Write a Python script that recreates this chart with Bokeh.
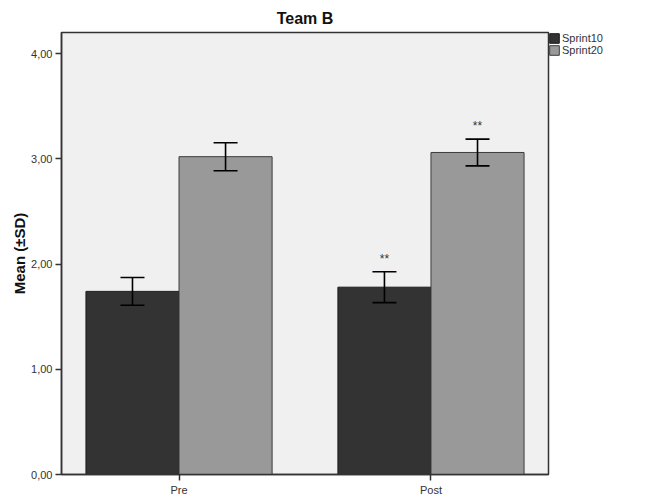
from bokeh.plotting import figure
from bokeh.models import (ColumnDataSource, FactorRange, Range1d, Whisker, TeeHead,
                          Legend, LegendItem, CustomJSTickFormatter, FixedTicker)
from bokeh.transform import dodge
from bokeh.core.properties import value
from bokeh.embed import file_html
from bokeh.resources import INLINE

# ---- data ----
phases = ["Pre", "Post"]
series_names = ["Sprint10", "Sprint20"]
sprint10_mean = [1.74, 1.78]
sprint10_sd = [0.132, 0.147]
sprint20_mean = [3.02, 3.06]
sprint20_sd = [0.133, 0.127]
sprint10_mark = ["", "**"]
sprint20_mark = ["", "**"]
y_ticks = [0, 1, 2, 3, 4]
y_max = 4.2

colors = ["#333333", "#999999"]
edge_colors = ["#1c1c1c", "#3c3c3c"]
FONT = "Liberation Sans"

src = ColumnDataSource(dict(
    phase=phases,
    m10=sprint10_mean, m20=sprint20_mean,
    up10=[m + s for m, s in zip(sprint10_mean, sprint10_sd)],
    lo10=[m - s for m, s in zip(sprint10_mean, sprint10_sd)],
    up20=[m + s for m, s in zip(sprint20_mean, sprint20_sd)],
    lo20=[m - s for m, s in zip(sprint20_mean, sprint20_sd)],
    mk10=sprint10_mark, mk20=sprint20_mark,
))

p = figure(frame_width=487, frame_height=442, output_backend="svg", toolbar_location=None,
           x_range=FactorRange(factors=phases, factor_padding=0.072, range_padding=0),
           y_range=Range1d(0, y_max), title="Team B",
           min_border_left=61, min_border_right=53, min_border_top=32, min_border_bottom=10)

p.title.align = "center"
p.title.text_font = FONT
p.title.text_font_size = "16px"
p.title.text_font_style = "bold"
p.title.text_color = "#111111"
p.title.standoff = 12

p.background_fill_color = "#f0f0f0"
p.border_fill_color = "white"
p.outline_line_color = "#333333"
p.outline_line_width = 1.5
p.xgrid.visible = False
p.ygrid.visible = False

bw = 0.396
off = bw / 2
r10 = p.vbar(x=dodge("phase", -off, range=p.x_range), top="m10", width=bw, bottom=0,
             source=src, fill_color=colors[0], line_color=edge_colors[0], line_width=1)
r20 = p.vbar(x=dodge("phase", off, range=p.x_range), top="m20", width=bw, bottom=0,
             source=src, fill_color=colors[1], line_color=edge_colors[1], line_width=1)

for d, up, lo in [(-off, "up10", "lo10"), (off, "up20", "lo20")]:
    w = Whisker(base=dodge("phase", d, range=p.x_range), upper=up, lower=lo, source=src,
                level="overlay", line_color="black", line_width=1.6,
                upper_head=TeeHead(size=24, line_color="black", line_width=1.6),
                lower_head=TeeHead(size=24, line_color="black", line_width=1.6))
    p.add_layout(w)

for d, up, mk in [(-off, "up10", "mk10"), (off, "up20", "mk20")]:
    p.text(x=dodge("phase", d, range=p.x_range), y=up, text=mk, source=src,
           text_align="center", text_baseline="bottom", y_offset=-6,
           text_font=value(FONT), text_font_size="12px", text_color="#333333")

# axes
p.yaxis.ticker = FixedTicker(ticks=y_ticks)
p.yaxis.formatter = CustomJSTickFormatter(code="return tick.toFixed(2).replace('.', ',');")
p.yaxis.axis_label = "Mean (±SD)"
p.yaxis.axis_label_text_font = FONT
p.yaxis.axis_label_text_font_size = "15px"
p.yaxis.axis_label_text_font_style = "bold"
p.yaxis.axis_label_text_color = "#111111"
p.yaxis.axis_label_standoff = 0
p.yaxis.minor_tick_line_color = None

for ax in (p.xaxis[0], p.yaxis[0]):
    ax.major_tick_out = 6
    ax.major_tick_in = 0
    ax.major_tick_line_color = "#333333"
    ax.major_tick_line_width = 1.5
    ax.axis_line_color = "#333333"
    ax.axis_line_width = 1.5
    ax.major_label_text_font = FONT
    ax.major_label_text_font_size = "11px"
    ax.major_label_text_color = "#333333"
    ax.major_label_standoff = 3

legend = Legend(items=[LegendItem(label=series_names[0], renderers=[r10]),
                       LegendItem(label=series_names[1], renderers=[r20])],
                location="top_left", orientation="vertical",
                glyph_width=12, glyph_height=12, spacing=0, padding=0, margin=0,
                label_standoff=2, label_text_font=FONT, label_text_font_size="11px",
                label_text_color="#333333", label_height=12,
                border_line_color=None, background_fill_alpha=0)
p.add_layout(legend, "right")

open("out.html", "w").write(file_html(p, INLINE))
